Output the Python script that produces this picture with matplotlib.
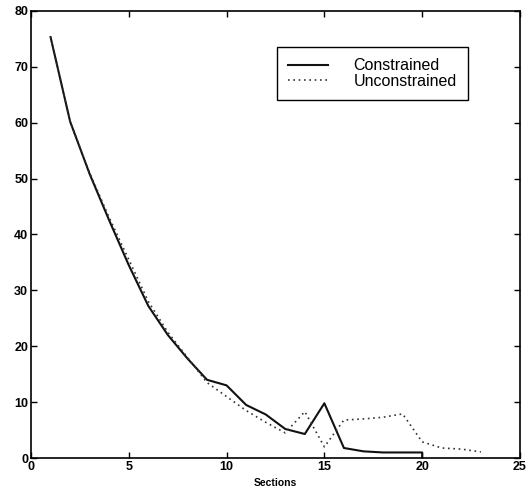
import matplotlib
matplotlib.use("Agg")
import matplotlib.pyplot as plt

sections_c = [1, 2, 3, 4, 5, 6, 7, 8, 9, 10, 11, 12, 13, 14, 15, 16, 17, 18, 19, 20, 20]
constrained = [75.3, 60.2, 50.8, 42.5, 34.5, 27.2, 22.0, 17.8, 14.0, 13.0, 9.5, 7.8,
               5.2, 4.3, 9.8, 1.8, 1.2, 1.0, 1.0, 1.0, 0.0]
sections_u = list(range(1, 24))
unconstrained = [75.3, 60.2, 51.0, 43.0, 35.5, 28.0, 22.5, 18.0, 13.5, 11.0, 8.5, 6.4,
                 4.5, 8.3, 2.0, 6.8, 7.0, 7.3, 7.9, 2.9, 1.8, 1.6, 1.1]
xticks = [0, 5, 10, 15, 20, 25]
yticks = [0, 10, 20, 30, 40, 50, 60, 70, 80]

plt.rcParams['font.family'] = ['Liberation Sans', 'DejaVu Sans']
fig = plt.figure(figsize=(5.30, 4.92), dpi=100)
ax = fig.add_axes([0.0585, 0.069, 0.9225, 0.909])
ax.plot(sections_c, constrained, color='#111111', lw=1.5, label='Constrained')
ax.plot(sections_u, unconstrained, color='#333333', lw=1.2, linestyle=(0, (1, 2.2)),
        label='Unconstrained')
ax.set_xlim(0, 25)
ax.set_ylim(0, 80)
ax.set_xticks(xticks)
ax.set_yticks(yticks)
ax.tick_params(direction='in', top=True, right=True, length=4, width=1,
               labelsize=9, pad=2)
for lab in ax.get_xticklabels() + ax.get_yticklabels():
    lab.set_fontweight('bold')
for s in ax.spines.values():
    s.set_linewidth(1.2)
ax.set_xlabel('Sections', fontsize=7.5, fontweight='bold', labelpad=4)
leg = ax.legend(loc='upper left', bbox_to_anchor=(0.503, 0.919), fontsize=11.5,
                frameon=True, fancybox=False, edgecolor='black', framealpha=1,
                handlelength=2.5, handletextpad=1.6, borderpad=0.7, labelspacing=0.05,
                borderaxespad=0)
leg.get_frame().set_linewidth(1.0)
fig.savefig('out.png', dpi=100)
